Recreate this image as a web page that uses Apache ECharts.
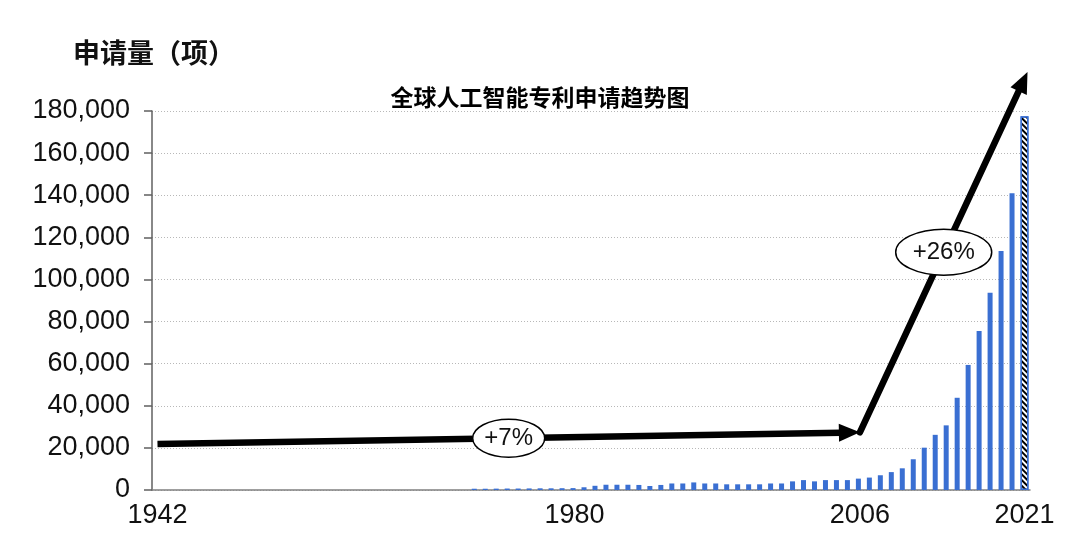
<!DOCTYPE html>
<html>
<head>
<meta charset="utf-8">
<script src="https://cdn.jsdelivr.net/npm/echarts@6/dist/echarts.min.js"></script>
<style>
html,body{margin:0;padding:0;background:#fff;}
#chart{width:1080px;height:549px;}
</style>
</head>
<body>
<div id="chart"></div>
<script>
// ---- data ----
const firstYear = 1942;
const lastYear = 2021;
const years = [];
for (let y = firstYear; y <= lastYear; y++) years.push(String(y));

// patent applications per year (1942 .. 2021); last year is a projection (hatched)
const applications = [
  0,0,0,0,0,0,0,0,0,0,            // 1942-1951
  0,0,0,0,0,0,0,0,0,0,            // 1952-1961
  0,0,0,0,0,0,0,0,0,              // 1962-1970
  600,600,650,700,700,750,800,800,850,900,           // 1971-1980
  1300,2000,2500,2500,2500,2400,1900,2400,3100,3100, // 1981-1990
  3600,3100,3100,2700,2700,2700,2700,3100,3100,4100, // 1991-2000
  4700,4100,4700,4700,4700,5400,5900,7000,8500,10300,// 2001-2010
  14600,20100,26200,30700,43800,59400,75500,93700,113500,140900, // 2011-2020
  177500                                             // 2021
];
const projectedYears = ['2021'];
const xTickLabels = ['1942', '1980', '2006', '2021'];
const yMin = 0, yMax = 180000, yStep = 20000;

// trend arrows (data coordinates: [year, value])
const trendArrows = [
  { from: ['1942', 21800], to: ['2006', 27400], label: '+7%', rx: 36, ry: 19 },
  { from: ['2006', 27400], to: ['2021', 198500], label: '+26%', rx: 48, ry: 23 }
];

const titleText = '全球人工智能专利申请趋势图';
const yAxisName = '申请量（项）';

// ---- chart ----
const BLUE = '#3A6FD2';
const chart = echarts.init(document.getElementById('chart'), null, { renderer: 'canvas' });

const isProj = i => projectedYears.indexOf(years[i]) >= 0;
const actualData = applications.map((v, i) => isProj(i) ? null : v);
const projData = applications.map((v, i) => isProj(i) ? v : null);

chart.setOption({
  animation: false,
  backgroundColor: '#fff',
  title: [
    {
      text: titleText, left: 'center', top: 81,
      textStyle: { fontFamily: 'Noto Sans CJK SC', fontSize: 23, fontWeight: 'bold', color: '#000' }
    },
    {
      text: yAxisName, left: 68, top: 34,
      textStyle: { fontFamily: 'Noto Sans CJK SC', fontSize: 27, fontWeight: 'bold', color: '#111' }
    }
  ],
  grid: { left: 152, right: 50, top: 111, bottom: 59, containLabel: false },
  xAxis: {
    type: 'category',
    data: years,
    boundaryGap: true,
    axisLine: { show: true, lineStyle: { color: '#808080', width: 1.5 } },
    axisTick: { show: false },
    axisLabel: {
      interval: (idx, val) => xTickLabels.indexOf(val) >= 0,
      fontFamily: 'Liberation Sans', fontSize: 27, color: '#111', margin: 12
    },
    splitLine: { show: false }
  },
  yAxis: {
    type: 'value',
    min: yMin, max: yMax, interval: yStep,
    axisLine: { show: true, lineStyle: { color: '#606060', width: 1.5 } },
    axisTick: { show: true, length: 8, lineStyle: { color: '#606060', width: 1.5 } },
    axisLabel: {
      fontFamily: 'Liberation Sans', fontSize: 27, color: '#111', margin: 22,
      formatter: v => v.toLocaleString('en-US')
    },
    splitLine: { show: true, lineStyle: { color: '#b8b8b8', type: [1, 2], width: 1 } }
  },
  series: [
    {
      type: 'bar',
      data: actualData,
      barWidth: 5,
      barGap: '-100%',
      itemStyle: { color: BLUE },
      z: 2
    },
    {
      type: 'bar',
      data: projData,
      barWidth: 8,
      barGap: '-100%',
      itemStyle: {
        color: '#ffffff',
        borderColor: BLUE,
        borderWidth: 1.5,
        decal: {
          symbol: 'rect',
          symbolSize: 1,
          color: '#000',
          dashArrayX: [[1, 0]],
          dashArrayY: [2, 2],
          rotation: Math.PI / 4
        }
      },
      z: 2
    }
  ]
});

// ---- annotations (arrows + growth labels) ----
function px(p) { return chart.convertToPixel({ gridIndex: 0 }, p); }
const graphics = [];
trendArrows.forEach((ar, k) => {
  const a = px(ar.from), b = px(ar.to);
  b[0] += k === 1 ? 3 : 0;
  const dx = b[0] - a[0], dy = b[1] - a[1];
  const L = Math.sqrt(dx * dx + dy * dy);
  const ux = dx / L, uy = dy / L, nx = -uy, ny = ux;
  const headLen = 21, headW = 18;
  const bx = b[0] - ux * headLen, by = b[1] - uy * headLen;
  graphics.push({
    type: 'polyline', z: 10,
    shape: { points: [a, [bx + ux * 2, by + uy * 2]] },
    style: { stroke: '#000', lineWidth: 6.5, lineCap: k === 0 ? 'butt' : 'round', fill: null }
  });
  graphics.push({
    type: 'polygon', z: 10,
    shape: { points: [b, [bx + nx * headW / 2, by + ny * headW / 2], [bx - nx * headW / 2, by - ny * headW / 2]] },
    style: { fill: '#000' }
  });
  const cx = (a[0] + b[0]) / 2, cy = (a[1] + b[1]) / 2;
  graphics.push({
    type: 'ellipse', z: 11,
    shape: { cx: cx, cy: cy, rx: ar.rx, ry: ar.ry },
    style: { fill: '#fff', stroke: '#000', lineWidth: 1.5 }
  });
  graphics.push({
    type: 'text', z: 12, x: cx, y: cy,
    style: {
      text: ar.label, fill: '#111', align: 'center', verticalAlign: 'middle',
      font: '24px "Liberation Sans"'
    }
  });
});
chart.setOption({ graphic: graphics });
</script>
</body>
</html>
